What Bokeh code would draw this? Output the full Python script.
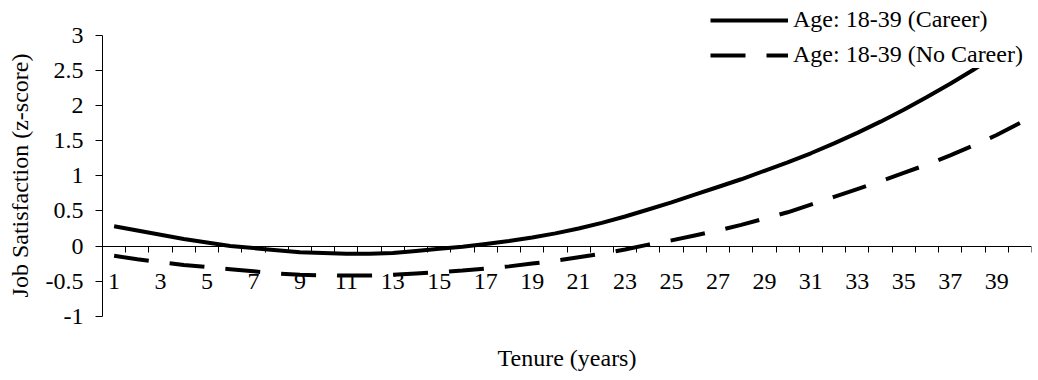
from bokeh.plotting import figure
from bokeh.models import LinearAxis, FixedTicker, Legend, LegendItem, Range1d
from bokeh.embed import file_html
from bokeh.resources import INLINE

# ---- data ----
tenure = list(range(1, 41))
career = [0.28, 0.22, 0.16, 0.10, 0.05, 0.00, -0.03, -0.06, -0.09, -0.10,
          -0.11, -0.11, -0.10, -0.07, -0.04, -0.01, 0.03, 0.07, 0.12, 0.18,
          0.25, 0.33, 0.42, 0.52, 0.62, 0.73, 0.84, 0.95, 1.07, 1.19,
          1.32, 1.46, 1.61, 1.77, 1.94, 2.12, 2.31, 2.51, 2.72, 2.94]
no_career = [-0.14, -0.19, -0.23, -0.27, -0.30, -0.33, -0.36, -0.39, -0.41, -0.42,
             -0.42, -0.42, -0.41, -0.39, -0.37, -0.35, -0.32, -0.29, -0.25, -0.21,
             -0.16, -0.11, -0.05, 0.02, 0.08, 0.15, 0.22, 0.30, 0.39, 0.48,
             0.59, 0.70, 0.81, 0.92, 1.04, 1.16, 1.29, 1.43, 1.58, 1.75]
series_names = ["Age: 18-39 (Career)", "Age: 18-39 (No Career)"]
x_label_ticks = [t for t in tenure if t % 2 == 1]
x_boundaries = [t + 0.5 for t in tenure]
y_ticks = [-1, -0.5, 0, 0.5, 1, 1.5, 2, 2.5, 3]
y_tick_labels = ["-1", "-0.5", "0", "0.5", "1", "1.5", "2", "2.5", "3"]
x_title = "Tenure (years)"
y_title = "Job Satisfaction (z-score)"

FONT = "Liberation Serif"
FS = "24px"

p = figure(width=1038, height=380, output_backend="svg", toolbar_location=None,
           x_range=Range1d(0.5, 40.5), y_range=Range1d(-1.4875, 3.4947),
           x_axis_type=None, y_axis_type=None,
           min_border_left=102, min_border_right=7, min_border_top=0,
           min_border_bottom=30)
p.outline_line_color = None
p.background_fill_color = "white"
p.border_fill_color = "white"

# y axis
yax = LinearAxis(ticker=FixedTicker(ticks=y_ticks, minor_ticks=[]),
                 major_label_overrides={float(t): l for t, l in zip(y_ticks, y_tick_labels)},
                 bounds=(-1, 3),
                 major_tick_out=7, major_tick_in=0, minor_tick_out=0, minor_tick_in=0,
                 major_label_standoff=12,
                 major_label_text_font=FONT, major_label_text_font_size=FS,
                 major_label_text_color="black",
                 axis_label=y_title, axis_label_standoff=10,
                 axis_label_text_font=FONT, axis_label_text_font_size=FS,
                 axis_label_text_font_style="normal", axis_label_text_color="black",
                 axis_line_color="black", major_tick_line_color="black")
p.add_layout(yax, "left")

# x axis at y = 0
xax = LinearAxis(ticker=FixedTicker(ticks=x_label_ticks, minor_ticks=x_boundaries),
                 fixed_location=0, bounds=(0.5, 40.5),
                 major_tick_out=0, major_tick_in=0, minor_tick_out=6, minor_tick_in=0,
                 major_label_standoff=22,
                 major_label_text_font=FONT, major_label_text_font_size=FS,
                 major_label_text_color="black",
                 axis_line_color="black", minor_tick_line_color="black")
p.add_layout(xax, "below")

# x axis title only
tax = LinearAxis(ticker=FixedTicker(ticks=[], minor_ticks=[]),
                 axis_line_color=None, major_tick_line_color=None,
                 minor_tick_line_color=None,
                 major_tick_out=0, major_tick_in=0, minor_tick_out=0, minor_tick_in=0,
                 major_label_text_font_size="0px", major_label_standoff=0,
                 axis_label=x_title, axis_label_standoff=-6,
                 axis_label_text_font=FONT, axis_label_text_font_size=FS,
                 axis_label_text_font_style="normal", axis_label_text_color="black")
p.add_layout(tax, "below")

r1 = p.line(tenure, career, line_color="black", line_width=4, line_join="round")
r2 = p.line(tenure, no_career, line_color="black", line_width=4, line_dash="35 21")

legend = Legend(items=[LegendItem(label=series_names[0], renderers=[r1]),
                       LegendItem(label=series_names[1], renderers=[r2])],
                location=(608, 282), background_fill_color="white",
                background_fill_alpha=1.0, border_line_color=None,
                glyph_width=78, glyph_height=20, label_standoff=5,
                label_text_font=FONT, label_text_font_size=FS,
                label_text_color="black",
                padding=2, spacing=8, margin=0)
p.add_layout(legend, "center")

open("out.html", "w").write(file_html(p, INLINE))
